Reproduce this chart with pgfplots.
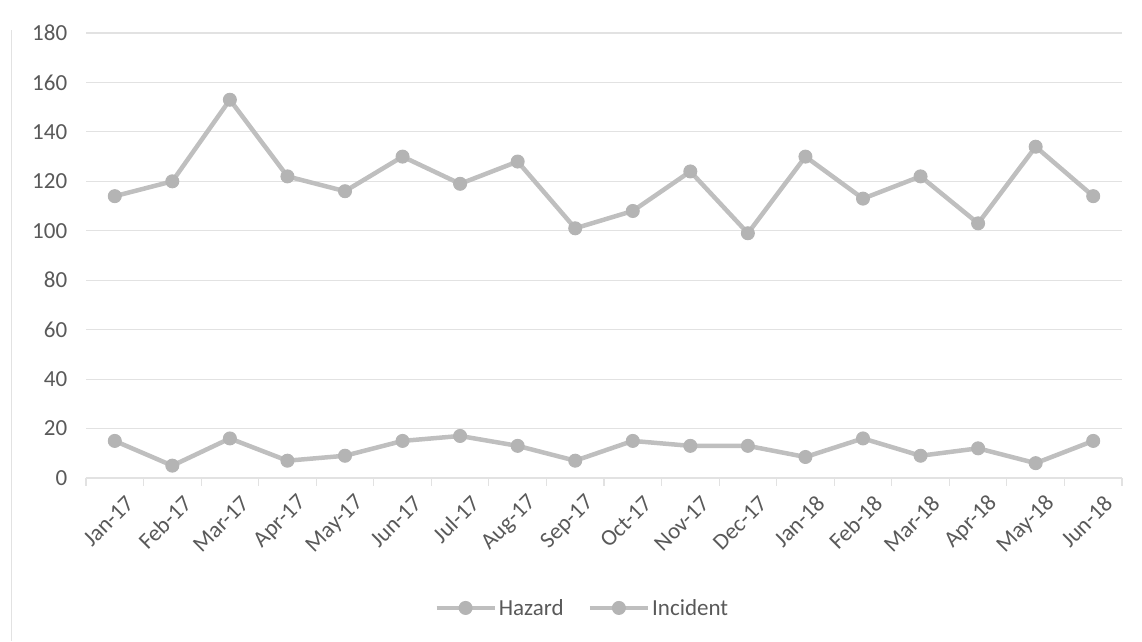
\documentclass[border=0pt]{standalone}
\usepackage{fontspec}
\setmainfont{Carlito}
\usepackage{pgfplots}
\pgfplotsset{compat=1.18}

\definecolor{linegray}{RGB}{191,191,191}
\definecolor{markgray}{RGB}{180,180,180}
\definecolor{gridgray}{RGB}{226,226,226}
\definecolor{labelgray}{RGB}{89,89,89}

% Monthly reports
\pgfplotstableread{
idx hazard incident
0  114 15
1  120 5
2  153 16
3  122 7
4  116 9
5  130 15
6  119 17
7  128 13
8  101 7
9  108 15
10 124 13
11 99  13
12 130 8.5
13 113 16
14 122 9
15 103 12
16 134 6
17 114 15
}\reports

\begin{document}
\begin{tikzpicture}
\begin{axis}[
  name=ax,
  scale only axis,
  width=1036pt, height=445pt,
  xmin=-0.5, xmax=17.5,
  ymin=0, ymax=180,
  ytick={0,20,...,180},
  xtick={0,...,17},
  xticklabels={Jan-17,Feb-17,Mar-17,Apr-17,May-17,Jun-17,Jul-17,Aug-17,Sep-17,Oct-17,Nov-17,Dec-17,Jan-18,Feb-18,Mar-18,Apr-18,May-18,Jun-18},
  minor xtick={-0.5,0.5,...,17.5},
  axis lines*=left,
  y axis line style={draw=none},
  x axis line style={gridgray, line width=1.2pt},
  ytick style={draw=none},
  major x tick style={draw=none},
  minor x tick style={gridgray, line width=1.2pt},
  tick align=outside,
  minor tick length=8pt,
  ymajorgrids,
  grid style={gridgray, line width=1.2pt},
  /pgf/number format/assume math mode=true,
  tick label style={font=\fontsize{23}{27}\selectfont, text=labelgray},
  yticklabel style={xshift=-11pt},
  xticklabel style={rotate=45, anchor=east, xshift=2pt, yshift=-23pt},
  legend style={draw=none, fill=none, at={(0.479,-0.292)}, anchor=center,
    font=\fontsize{23}{27}\selectfont, text=labelgray,
    /tikz/every even column/.append style={column sep=22pt}},
  legend columns=2,
  legend image code/.code={%
    \draw[mark repeat=2, mark phase=2] plot coordinates {(0pt,0pt) (29pt,0pt) (58pt,0pt)};},
  clip=false,
]
\addplot[linegray, line width=4.5pt, mark=*, mark size=6.5pt,
  mark options={fill=markgray, draw=markgray, line width=1pt}]
  table[x=idx, y=hazard] {\reports};
\addlegendentry{Hazard}
\addplot[linegray, line width=4.5pt, mark=*, mark size=6.5pt,
  mark options={fill=markgray, draw=markgray, line width=1pt}]
  table[x=idx, y=incident] {\reports};
\addlegendentry{Incident}
\end{axis}
% chart area frame
\draw[gridgray, line width=1pt] ([xshift=-74pt]ax.south west) ++(0,-163pt) -- ++(0,611pt);
\path ([xshift=-86pt, yshift=-163pt]ax.south west) rectangle ++(1142pt,641pt);
\end{tikzpicture}
\end{document}
